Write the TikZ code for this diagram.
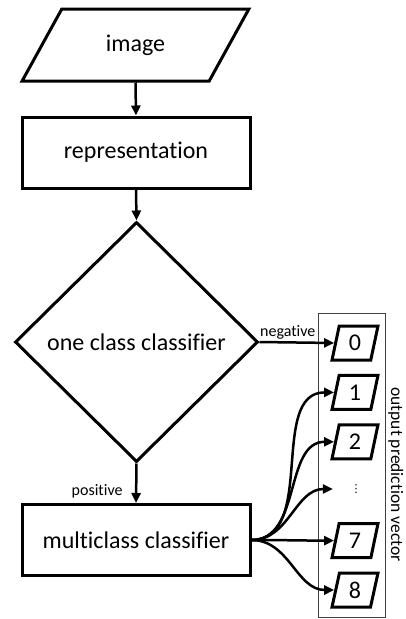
\documentclass[tikz,border=0pt]{standalone}
\usepackage{fontspec}
\setmainfont{Carlito}[Ligatures=NoCommon]
\newfontfamily\symfont{DejaVu Sans}
\usetikzlibrary{shapes.geometric,arrows.meta}

\begin{document}
\begin{tikzpicture}[x=1pt,y=-1pt,
    every node/.style={font=\fontsize{24}{28}\selectfont},
    block/.style={draw, line width=3pt, minimum width=228pt, minimum height=71pt},
    io/.style={draw, line width=3pt, trapezium, trapezium left angle=57,
        trapezium right angle=123, trapezium stretches=true,
        minimum width=227pt, minimum height=72pt},
    decision/.style={draw, line width=3pt, diamond, minimum width=243pt, minimum height=240pt},
    cell/.style={draw, line width=3pt, trapezium, trapezium left angle=80,
        trapezium right angle=100, trapezium stretches=true,
        minimum width=46pt, minimum height=34pt, inner sep=0pt},
    tag/.style={font=\fontsize{16}{19}\selectfont},
    flow/.style={-{Triangle[length=10pt,width=9pt]}, line width=2.5pt}]

    \useasboundingbox (0,0) rectangle (406,619);

    % Draw the flow chart
    \node[io] (img) at (135.5,45) {image};
    \node[block] (rep) at (136,152.5) {representation};
    \node[decision] (occ) at (136.5,342) {one class classifier};
    \node[block] (mcc) at (136,540) {multiclass classifier};

    \draw[flow] (img.south) -- (rep.north);
    \draw[flow] (rep.south) -- (occ.north);
    \draw[flow] (occ.south) -- node[tag, pos=0.7, left=9pt] {positive} (mcc.north);

    % Draw the output vector
    \node[draw=black!75, line width=1pt, minimum width=67pt, minimum height=304pt] (vec) at (351.5,465) {};
    \node[font=\fontsize{17.5}{21}\selectfont, rotate=-90, anchor=south, inner sep=2.5pt] (veclbl) at (vec.east |- 0,474.5) {output prediction vector};

    \foreach \i/\y in {0/343, 1/392.4, 2/441.8, 7/540.6, 8/590}
        \node[cell] (c\i) at (355,\y) {\i};
    \node[font=\symfont\fontsize{11}{13}\selectfont, inner sep=0pt, minimum width=46pt] (cdots) at (356,489) {⋮};

    % Add arrows into the vector
    \draw[flow] (occ.east) -- node[tag, above, xshift=-9pt, inner sep=2pt] {negative} (c0.west);
    \foreach \t in {c1, c2, cdots, c7, c8}
        \draw[flow] (mcc.east) to[out=0, in=180] (\t.west);
\end{tikzpicture}
\end{document}
